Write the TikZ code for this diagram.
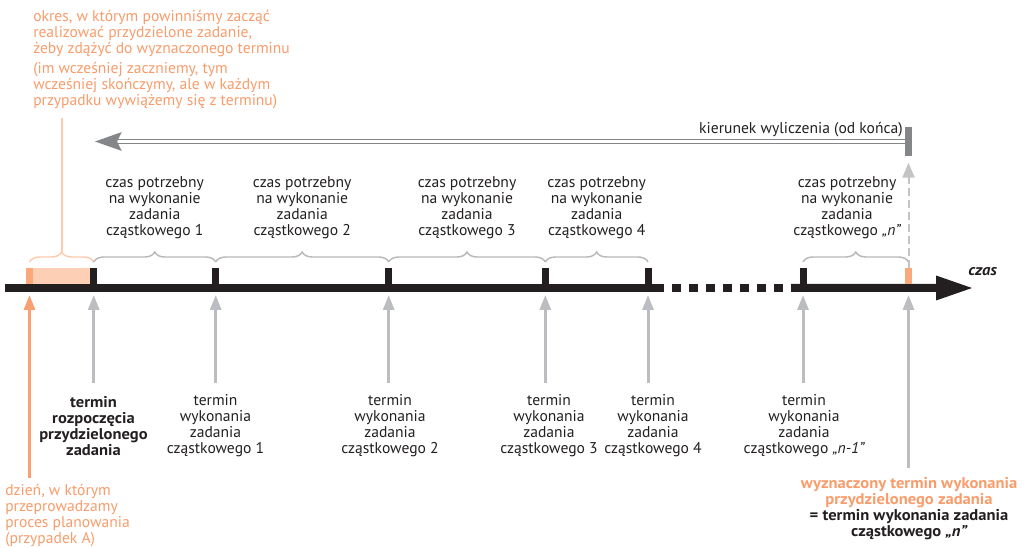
\documentclass[tikz,border=0pt]{standalone}
\usepackage{fontspec}
\setmainfont{PT Sans}[BoldFeatures={FakeStretch=1.06}, BoldItalicFeatures={FakeStretch=1.06}]
\usetikzlibrary{arrows.meta,decorations.pathreplacing}

\definecolor{ink}{HTML}{231F20}
\definecolor{orangeText}{HTML}{F89C6B}
\definecolor{orangeMark}{HTML}{FBA97C}
\definecolor{orangeArrow}{HTML}{F9A070}
\definecolor{orangeLight}{HTML}{FDD0B5}
\definecolor{orangeBrace}{HTML}{FDCBAE}
\definecolor{arrowGray}{HTML}{BCBDC0}
\definecolor{braceGray}{HTML}{B8B9BB}
\definecolor{dashGray}{HTML}{C4C4C6}
\definecolor{dirGray}{HTML}{85868A}

\begin{document}
\begin{tikzpicture}[x=0.75pt,y=-0.75pt,
  font=\fontsize{11.7}{12}\selectfont, text=ink,
  tickmark/.style={fill=ink, minimum width=5.25pt, minimum height=12pt, inner sep=0pt, outer sep=0pt},
  endmark/.style={fill=orangeMark, minimum width=5.25pt, minimum height=12pt, inner sep=0pt, outer sep=0pt},
  lbl/.style={align=center, inner sep=0pt},
  brc/.style={decorate, decoration={brace, amplitude=7.5pt, aspect=0.5}, line width=1.1pt},
  uparrow/.style={draw=arrowGray, line width=2.25pt, -{Triangle[length=11.25pt, width=8.25pt]}},
]
\useasboundingbox (0,0) rectangle (1030,548);

% time axis
\fill[ink] (5,284) rectangle (664,292);
\foreach \i in {0,...,6} \fill[ink] ({672.3+17*\i},284) rectangle +(8.7,8);
\fill[ink] (791,284) -- (936,284) -- (936,275.5) -- (972,288) -- (936,300.5) -- (936,292) -- (791,292) -- cycle;
\node[anchor=base west, inner sep=0pt, font=\fontsize{11.7}{12}\selectfont\bfseries\itshape] (czas) at (968,275.5) {czas};

% marks on the axis
\node[endmark] (m0) at (29.5,276) {};
\node[tickmark] (t0) at (93.7,276) {};
\node[tickmark] (t1) at (215.7,276) {};
\node[tickmark] (t2) at (388.7,276) {};
\node[tickmark] (t3) at (545.3,276) {};
\node[tickmark] (t4) at (648,276) {};
\node[tickmark] (t5) at (803,276) {};
\node[endmark] (mN) at (908.5,276) {};
\fill[orangeLight] (m0.north east) rectangle (t0.south west);

% braces over the intervals
\draw[brc, draw=orangeBrace] ([yshift=4.5pt]m0.north) -- ([yshift=4.5pt]t0.north);
\draw[brc, draw=braceGray] ([yshift=4.5pt]t0.north) -- ([yshift=4.5pt]t1.north);
\draw[brc, draw=braceGray] ([yshift=4.5pt]t1.north) -- ([yshift=4.5pt]t2.north);
\draw[brc, draw=braceGray] ([yshift=4.5pt]t2.north) -- ([yshift=4.5pt]t3.north);
\draw[brc, draw=braceGray] ([yshift=4.5pt]t3.north) -- ([yshift=4.5pt]t4.north);
\draw[brc, draw=braceGray] ([yshift=4.5pt]t5.north) -- ([yshift=4.5pt]mN.north);

% durations above the braces
\node[lbl] (d1) at (154.7,208) {czas potrzebny\\na wykonanie\\zadania\\cząstkowego 1};
\node[lbl] (d2) at (302.2,208) {czas potrzebny\\na wykonanie\\zadania\\cząstkowego 2};
\node[lbl] (d3) at (467,208) {czas potrzebny\\na wykonanie\\zadania\\cząstkowego 3};
\node[lbl] (d4) at (596.7,208) {czas potrzebny\\na wykonanie\\zadania\\cząstkowego 4};
\node[lbl] (dn) at (847,208) {czas potrzebny\\na wykonanie\\zadania\\cząstkowego {\itshape „n”}};

% starting period note
\node[anchor=north west, align=left, inner sep=0pt, text=orangeText] (okres) at (33,10)
  {okres, w którym powinniśmy zacząć\\realizować przydzielone zadanie,\\żeby zdążyć do wyznaczonego terminu\\[3pt]
   (im wcześniej zaczniemy, tym\\wcześniej skończymy, ale w każdym\\przypadku wywiążemy się z terminu)};
\coordinate (pk) at (61.6,252);
\coordinate (okresFoot) at (61.6,118);
\draw[orangeBrace, line width=1.5pt] (pk) -- (okresFoot);

% direction of calculation
\node[fill=dirGray, minimum width=5.25pt, minimum height=21.75pt, inner sep=0pt, outer sep=0pt] (bar) at (908.5,141.5) {};
\coordinate (dirEnd) at (95,141.5);
\draw[draw=dirGray, line width=1.1pt, double=white, double distance=1.6pt,
      -{Stealth[length=20pt, width=14pt, inset=3.5pt, fill=dirGray]}] (bar.west) -- (dirEnd);
\node[anchor=base east, inner sep=0pt] (kier) at (903,133.5) {kierunek wyliczenia (od końca)};
\draw[draw=dashGray, line width=1.5pt, dash pattern=on 6pt off 3pt,
      -{Triangle[length=11.25pt, width=9pt]}, shorten >=5pt] (mN.north) -- (bar.south);

% deadlines below the axis
\coordinate (a0) at (93.7,295);    \coordinate (b0) at (93.7,383);
\coordinate (a1) at (215.7,295);   \coordinate (b1) at (215.7,383);
\coordinate (a2) at (388.7,295);   \coordinate (b2) at (388.7,383);
\coordinate (a3) at (545.3,295);   \coordinate (b3) at (545.3,383);
\coordinate (a4) at (648,295);     \coordinate (b4) at (648,383);
\coordinate (a5) at (803,295);     \coordinate (b5) at (803,383);
\coordinate (aN) at (908.5,295);   \coordinate (bN) at (908.5,468);
\coordinate (aS) at (29.5,295);    \coordinate (bS) at (29.5,478);
\foreach \k in {0,...,5,N} \draw[uparrow] (b\k) -- (a\k);
\draw[uparrow, draw=orangeArrow] (bS) -- (aS);

\node[lbl, font=\fontsize{11.7}{12}\selectfont\bfseries] (l0) at (93.5,426) {termin\\rozpoczęcia\\przydzielonego\\zadania};
\node[lbl] (l1) at (215.5,426) {termin\\wykonania\\zadania\\cząstkowego 1};
\node[lbl] (l2) at (390,426) {termin\\wykonania\\zadania\\cząstkowego 2};
\node[lbl] (l3) at (549,426) {termin\\wykonania\\zadania\\cząstkowego 3};
\node[lbl] (l4) at (653,426) {termin\\wykonania\\zadania\\cząstkowego 4};
\node[lbl] (l5) at (804,426) {termin\\wykonania\\zadania\\cząstkowego {\itshape „n-1”}};
\node[lbl, font=\fontsize{11.7}{12}\selectfont\bfseries] (lN) at (909,509)
  {\textcolor{orangeText}{wyznaczony termin wykonania}\\\textcolor{orangeText}{przydzielonego zadania}\\= termin wykonania zadania\\cząstkowego {\itshape „n”}};
\node[anchor=west, align=left, inner sep=0pt, text=orangeText] (lS) at (5,516)
  {dzień, w którym\\przeprowadzamy\\proces planowania\\(przypadek A)};
\end{tikzpicture}
\end{document}
